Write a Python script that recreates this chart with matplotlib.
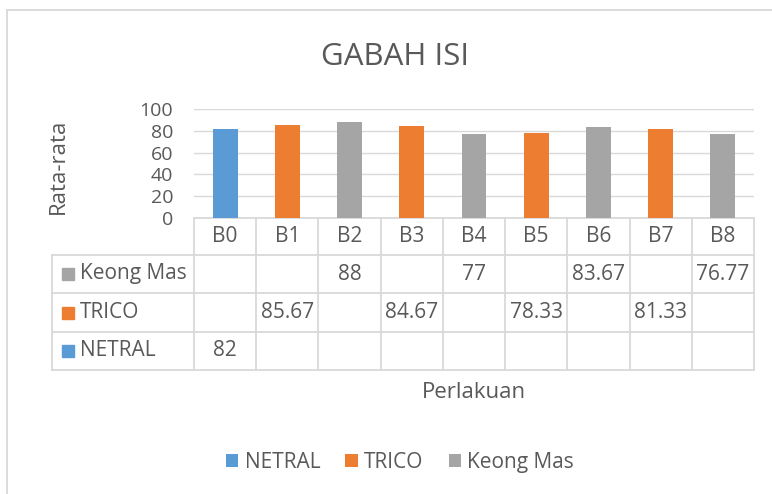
import numpy as np
import matplotlib
matplotlib.use("Agg")
import matplotlib.pyplot as plt
from matplotlib.patches import Rectangle
from matplotlib.transforms import blended_transform_factory

plt.rcParams['font.family'] = ['Open Sans', 'DejaVu Sans']

categories = ["B0", "B1", "B2", "B3", "B4", "B5", "B6", "B7", "B8"]
netral = [82, np.nan, np.nan, np.nan, np.nan, np.nan, np.nan, np.nan, np.nan]
trico = [np.nan, 85.67, np.nan, 84.67, np.nan, 78.33, np.nan, 81.33, np.nan]
keong = [np.nan, np.nan, 88, np.nan, 77, np.nan, 83.67, np.nan, 76.77]
yticks = [0, 20, 40, 60, 80, 100]

series = [("NETRAL", netral, "#5B9BD5"),
          ("TRICO", trico, "#ED7D31"),
          ("Keong Mas", keong, "#A5A5A5")]

W, H = 772, 494
txt = "#595959"
grid = "#D9D9D9"

fig = plt.figure(figsize=(W / 100, H / 100), dpi=100)

def fx(px):
    return px / W

def fy(py):
    return 1 - py / H

# chart border (cropped at right/bottom)
fig.add_artist(Rectangle((fx(7), fy(H + 20)), fx(W + 20), fy(10) - fy(H + 20),
                         transform=fig.transFigure, fill=False,
                         edgecolor=grid, lw=1.3))

ax = fig.add_axes([fx(194), fy(218), fx(754) - fx(194), fy(109) - fy(218)])
x = np.arange(len(categories))
for name, vals, col in series:
    ax.bar(x, vals, width=0.4, color=col, label=name, zorder=3)

ax.set_xlim(-0.5, len(categories) - 0.5)
ax.set_ylim(0, 100)
ax.set_yticks(yticks)
ax.tick_params(axis="y", length=0, labelsize=14, labelcolor=txt, pad=15)
ax.set_xticks([])
ax.yaxis.grid(True, color=grid, lw=1)
for s in ["top", "right", "left"]:
    ax.spines[s].set_visible(False)
ax.spines["bottom"].set_color(grid)
ax.spines["bottom"].set_linewidth(1.3)

fig.text(fx(58), fy(166), "Rata-rata", rotation=90, fontsize=16, color=txt,
         ha="center", va="center")

# data table under the axis
tr = blended_transform_factory(ax.transData, fig.transFigure)
row_y = [218, 255, 293, 332, 370]
n = len(categories)
lw = 1.3
left = -0.5 - (194 - 52) / ((754 - 194) / n)
for i in range(n + 1):
    ax.plot([i - 0.5, i - 0.5], [fy(218), fy(370)], transform=tr,
            color=grid, lw=lw, clip_on=False)
ax.plot([left, left], [fy(255), fy(370)], transform=tr, color=grid, lw=lw, clip_on=False)
for yy in row_y[1:]:
    ax.plot([left, n - 0.5], [fy(yy), fy(yy)], transform=tr, color=grid, lw=lw, clip_on=False)

for i, c in enumerate(categories):
    ax.text(i, fy((row_y[0] + row_y[1]) / 2), c, transform=tr, ha="center",
            va="center", fontsize=15, color=txt)

table_rows = [series[2], series[1], series[0]]
for r, (name, vals, col) in enumerate(table_rows):
    yc = fy((row_y[r + 1] + row_y[r + 2]) / 2)
    fig.add_artist(Rectangle((fx(62), yc - 6 / H), 12 / W, 12 / H,
                             transform=fig.transFigure, color=col))
    fig.text(fx(80), yc, name, ha="left", va="center", fontsize=15, color=txt)
    for i, v in enumerate(vals):
        if not np.isnan(v):
            ax.text(i, yc, f"{v:g}", transform=tr, ha="center", va="center",
                    fontsize=15, color=txt)

fig.text(fx(395), fy(57), "GABAH ISI", ha="center", va="center",
         fontsize=22.5, color=txt)
fig.text(fx(474), fy(392), "Perlakuan", ha="center", va="center",
         fontsize=16, color=txt)

fig.legend(loc="center", bbox_to_anchor=(fx(400), fy(462)), ncol=3,
           frameon=False, fontsize=15, labelcolor=txt, handlelength=0.6,
           handleheight=0.6, handletextpad=0.3, columnspacing=1.2)

fig.savefig("out.png", dpi=100)
